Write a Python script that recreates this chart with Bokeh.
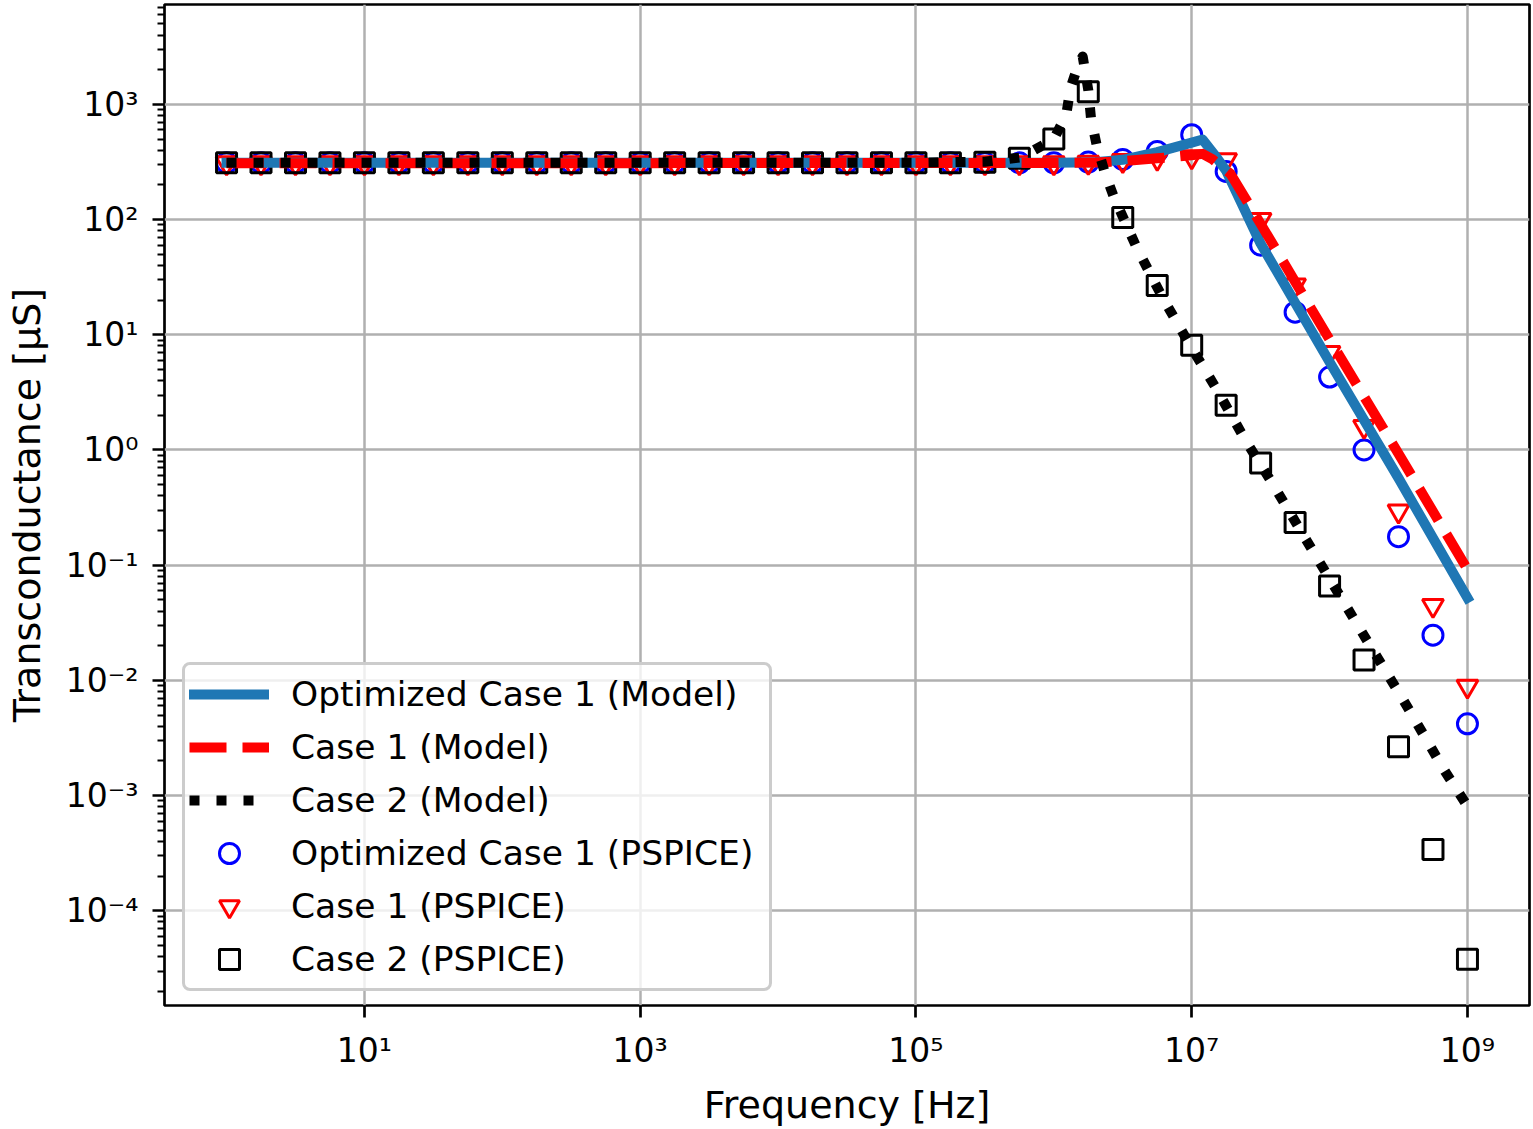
from bokeh.plotting import figure
from bokeh.models import FixedTicker, Legend, LegendItem, Range1d
from bokeh.embed import file_html
from bokeh.resources import INLINE

# ---------------- data ----------------
# PSPICE simulation frequencies [Hz] (quarter-decade points)
f_pspice = [1, 1.778, 3.162, 5.623, 10, 17.78, 31.62, 56.23, 100, 177.8, 316.2, 562.3,
            1000, 1778, 3162, 5623, 1e4, 1.778e4, 3.162e4, 5.623e4, 1e5, 1.778e5,
            3.162e5, 5.623e5, 1e6, 1.778e6, 3.162e6, 5.623e6, 1e7, 1.778e7, 3.162e7,
            5.623e7, 1e8, 1.778e8, 3.162e8, 5.623e8, 1e9]

opt_case1_pspice = [311, 311, 311, 311, 311, 311, 311, 311, 311, 311, 311, 311,
                    311, 311, 311, 311, 311, 311, 311, 311, 311, 311, 311, 311,
                    311, 316, 333, 390, 545, 262, 60, 15.7, 4.3, 1.0, 0.177,
                    0.0247, 0.0042]
case1_pspice = [311, 311, 311, 311, 311, 311, 311, 311, 311, 311, 311, 311,
                311, 311, 311, 311, 311, 311, 311, 311, 311, 311, 311, 311,
                311, 314, 325, 340, 350, 330, 100, 27, 7.0, 1.6, 0.295,
                0.0447, 0.0089]
case2_pspice = [311, 311, 311, 311, 311, 311, 311, 311, 311, 311, 311, 311,
                311, 311, 311, 311, 311, 311, 311, 311, 311, 311, 314, 340,
                500, 1290, 104, 26.8, 8.1, 2.45, 0.77, 0.235, 0.066, 0.0150,
                0.00265, 0.00034, 3.8e-5]

# model curves
opt_case1_model_f = [1, 1e6, 2.0e6, 3.16e6, 5.62e6, 1.0e7, 1.2e7, 1.48e7, 1.78e7,
                     3.16e7, 1.0e8, 3.16e8, 1.0e9]
opt_case1_model_g = [311, 311, 315, 330, 385, 465, 495, 360, 265, 62, 5.8, 0.57, 0.052]

case1_model_f = [1, 1e6, 2.0e6, 3.16e6, 5.62e6, 1.0e7, 1.2e7, 1.41e7, 1.91e7,
                 3.16e7, 1.0e8, 3.16e8, 1.0e9]
case1_model_g = [308, 310, 313, 322, 340, 362, 372, 335, 250, 92, 9.1, 0.93, 0.092]

case2_model_f = [1, 1e5, 3.16e5, 5.62e5, 6.92e5, 1.0e6, 1.23e6, 1.32e6, 1.51e6, 1.62e6,
                 1.78e6, 1.86e6, 2.04e6, 2.34e6, 2.72e6, 3.98e6, 6.10e6, 9.68e6,
                 1.51e7, 2.45e7, 3.98e7, 8.13e7, 1.66e8, 3.39e8, 6.92e8, 1.0e9]
case2_model_g = [311, 312, 318, 345, 390, 500, 810, 1380, 2250, 2600, 1320, 760, 450,
                 257, 158, 57.5, 21.4, 8.2, 3.4, 1.22, 0.48, 0.115, 0.028, 0.0069,
                 0.0016, 0.00081]

# axis ticks and labels
x_ticks = [10, 1e3, 1e5, 1e7, 1e9]
x_tick_labels = ["10\u00b9", "10\u00b3", "10\u2075", "10\u2077", "10\u2079"]
y_ticks = [1e-4, 1e-3, 1e-2, 1e-1, 1, 10, 100, 1000]
y_tick_labels = ["10\u207b\u2074", "10\u207b\u00b3", "10\u207b\u00b2", "10\u207b\u00b9",
                 "10\u2070", "10\u00b9", "10\u00b2", "10\u00b3"]

x_label = "Frequency [Hz]"
y_label = "Transconductance [\u00b5S]"

# ---------------- figure ----------------
FONT = "DejaVu Sans"
p = figure(width=1533, height=1129, x_axis_type="log", y_axis_type="log",
           x_range=Range1d(10 ** -0.45, 10 ** 9.45),
           y_range=Range1d(10 ** -4.822, 10 ** 3.867),
           output_backend="svg", toolbar_location=None,
           min_border_left=164, min_border_right=4, min_border_top=4,
           min_border_bottom=122)
p.background_fill_color = "white"
p.border_fill_color = "white"
p.outline_line_color = "black"
p.outline_line_width = 2.7

y_minor = [k * 10.0 ** n for n in range(-5, 4) for k in range(2, 10)]
p.xaxis.ticker = FixedTicker(ticks=x_ticks, minor_ticks=[])
p.yaxis.ticker = FixedTicker(ticks=y_ticks, minor_ticks=y_minor)
p.xaxis.major_label_overrides = {t: l for t, l in zip(x_ticks, x_tick_labels)}
p.yaxis.major_label_overrides = {t: l for t, l in zip(y_ticks, y_tick_labels)}

for ax in (p.xaxis, p.yaxis):
    ax.axis_line_color = None
    ax.major_tick_line_color = "black"
    ax.major_tick_line_width = 2.7
    ax.major_tick_out = 12
    ax.major_tick_in = 0
    ax.minor_tick_line_color = "black"
    ax.minor_tick_line_width = 2
    ax.minor_tick_out = 7
    ax.minor_tick_in = 0
    ax.major_label_text_font = FONT
    ax.major_label_text_font_size = "33px"
    ax.major_label_text_color = "black"
    ax.axis_label_text_font = FONT
    ax.axis_label_text_font_size = "38px"
    ax.axis_label_text_font_style = "normal"
    ax.axis_label_text_color = "black"

p.xaxis.axis_label = x_label
p.yaxis.axis_label = y_label
p.xaxis.major_label_standoff = 13
p.xaxis.axis_label_standoff = 10
p.yaxis.major_label_standoff = 14
p.yaxis.axis_label_standoff = 14

for g in (p.xgrid, p.ygrid):
    g.grid_line_color = "#b0b0b0"
    g.grid_line_width = 2.5
    g.minor_grid_line_color = None

# PSPICE markers (drawn beneath the model lines)
r_c = p.scatter(f_pspice, opt_case1_pspice, marker="circle", size=20,
                fill_color=None, line_color="#0000ff", line_width=3)
r_t = p.scatter(f_pspice, case1_pspice, marker="inverted_triangle", size=21,
                fill_color=None, line_color="#ff0000", line_width=3)
r_s = p.scatter(f_pspice, case2_pspice, marker="square", size=20,
                fill_color=None, line_color="black", line_width=3)

# model lines
r_l1 = p.line(opt_case1_model_f, opt_case1_model_g, line_color="#1f77b4",
              line_width=10, line_join="round", line_cap="square")
r_l2 = p.line(case1_model_f, case1_model_g, line_color="#ff0000", line_width=10,
              line_dash="37 16", line_join="round")
r_l3 = p.line(case2_model_f, case2_model_g, line_color="black", line_width=10,
              line_dash="10 17", line_join="round")

legend = Legend(items=[
    LegendItem(label="Optimized Case 1 (Model)", renderers=[r_l1]),
    LegendItem(label="Case 1 (Model)", renderers=[r_l2]),
    LegendItem(label="Case 2 (Model)", renderers=[r_l3]),
    LegendItem(label="Optimized Case 1 (PSPICE)", renderers=[r_c]),
    LegendItem(label="Case 1 (PSPICE)", renderers=[r_t]),
    LegendItem(label="Case 2 (PSPICE)", renderers=[r_s]),
], location=(18, 14))
legend.label_text_font = FONT
legend.label_text_font_size = "34.5px"
legend.label_text_color = "black"
legend.glyph_width = 80
legend.glyph_height = 50
legend.label_height = 50
legend.label_width = 474
legend.label_standoff = 22
legend.spacing = 3
legend.padding = 4
legend.margin = 0
legend.border_line_color = "#cccccc"
legend.border_line_width = 3
legend.border_line_alpha = 1.0
legend.background_fill_color = "white"
legend.background_fill_alpha = 0.8
try:
    legend.border_radius = 8
except Exception:
    pass
p.add_layout(legend, "center")

open("out.html", "w").write(file_html(p, INLINE))
